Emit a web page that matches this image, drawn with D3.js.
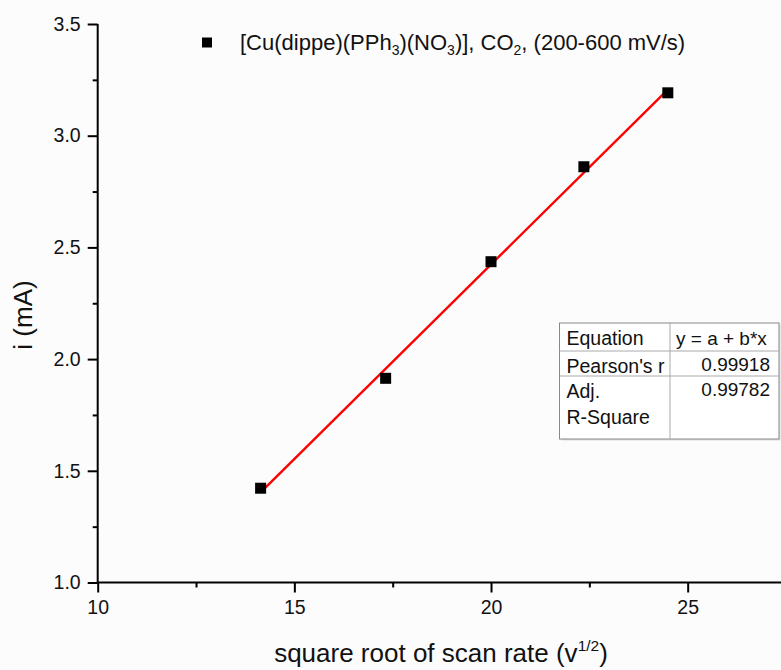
<!DOCTYPE html>
<html><head><meta charset="utf-8">
<script src="https://cdn.jsdelivr.net/npm/d3@7"></script>
<style>
body{margin:0;background:#fcfcfc;}
svg{display:block;font-family:"Liberation Sans",Arial,sans-serif;}
</style></head>
<body><svg id="c" width="781" height="670"></svg>
<script>
const scanRateSqrt = [14.142, 17.321, 20.0, 22.361, 24.495];
const current = [1.422, 1.914, 2.436, 2.861, 3.192];
const xMajorTicks = [10, 15, 20, 25];
const xMinorTicks = [12.5, 17.5, 22.5, 27.5];
const yMajorTicks = [1.0, 1.5, 2.0, 2.5, 3.0, 3.5];
const yMinorTicks = [1.25, 1.75, 2.25, 2.75, 3.25];
const tableRows = [["Equation", "y = a + b*x"], ["Pearson's r", "0.99918"], ["Adj.|R-Square", "0.99782"]];

const svg = d3.select("#c");
const x = d3.scaleLinear().domain([10, 27.5]).range([97.7, 786]);
const y = d3.scaleLinear().domain([1, 3.5]).range([582.5, 24]);

// axes
const gx = svg.append("g").attr("transform", "translate(0,582.5)");
gx.call(d3.axisBottom(x).tickValues(xMajorTicks).tickSize(10).tickPadding(8).tickFormat(d3.format("d")));
const gxm = svg.append("g").attr("transform", "translate(0,582.5)");
gxm.call(d3.axisBottom(x).tickValues(xMinorTicks).tickSize(5).tickFormat(""));
const gy = svg.append("g").attr("transform", "translate(97.7,0)");
gy.call(d3.axisLeft(y).tickValues(yMajorTicks).tickSize(10).tickPadding(7).tickFormat(d3.format(".1f")));
const gym = svg.append("g").attr("transform", "translate(97.7,0)");
gym.call(d3.axisLeft(y).tickValues(yMinorTicks).tickSize(5).tickFormat(""));
svg.selectAll(".domain").attr("stroke", "#000").attr("stroke-width", 2);
svg.selectAll(".tick line").attr("stroke", "#000").attr("stroke-width", 2);
svg.selectAll(".tick text").attr("font-size", 19.5).attr("fill", "#111").attr("font-family", "Liberation Sans, Arial, sans-serif");
gxm.select(".domain").remove(); gym.select(".domain").remove();
gx.select(".domain").attr("d", `M${x(10)},0H${x(27.5)}`);
gy.select(".domain").attr("d", `M0,${y(1)}V${y(3.5)}`);

// axis titles
const xt = svg.append("text").attr("x", 441).attr("y", 662).attr("text-anchor", "middle").attr("font-size", 26).attr("fill", "#111");
xt.append("tspan").text("square root of scan rate (v");
xt.append("tspan").attr("font-size", 15.5).attr("dy", -11).text("1/2");
xt.append("tspan").attr("dy", 11).text(")");
svg.append("text").attr("transform", "translate(31.5,315) rotate(-90)").attr("text-anchor", "middle")
  .attr("font-size", 26).attr("fill", "#111").text("i (mA)");

// linear fit (least squares of the data)
const n = scanRateSqrt.length;
const mx = d3.mean(scanRateSqrt), my = d3.mean(current);
let sxy = 0, sxx = 0;
for (let i = 0; i < n; i++) { sxy += (scanRateSqrt[i]-mx)*(current[i]-my); sxx += (scanRateSqrt[i]-mx)**2; }
const b = sxy/sxx, a = my - b*mx;
const x0 = d3.min(scanRateSqrt), x1 = d3.max(scanRateSqrt);
svg.append("line").attr("x1", x(x0)).attr("y1", y(a+b*x0)).attr("x2", x(x1)).attr("y2", y(a+b*x1))
  .attr("stroke", "#ff0000").attr("stroke-width", 2.4);

// points
const ms = 11;
svg.selectAll("rect.pt").data(scanRateSqrt).enter().append("rect").attr("class", "pt")
  .attr("x", d => x(d) - ms/2).attr("y", (d, i) => y(current[i]) - ms/2)
  .attr("width", ms).attr("height", ms).attr("fill", "#000");

// legend
svg.append("rect").attr("x", 202).attr("y", 37.5).attr("width", 10).attr("height", 10).attr("fill", "#000");
const lg = svg.append("text").attr("x", 240).attr("y", 50).attr("font-size", 22).attr("fill", "#111");
const sub = (t) => { lg.append("tspan").attr("font-size", 14).attr("dy", 5).text(t); };
lg.append("tspan").text("[Cu(dippe)(PPh");
sub("3");
lg.append("tspan").attr("dy", -5).text(")(NO");
sub("3");
lg.append("tspan").attr("dy", -5).text(")], CO");
sub("2");
lg.append("tspan").attr("dy", -5).text(", (200-600 mV/s)");

// stats table
const tx0 = 559.5, tx1 = 670, tx2 = 779, ty = [323, 351, 376, 439];
const tg = svg.append("g");
tg.append("rect").attr("x", tx0+1.5).attr("y", ty[0]+1.5).attr("width", tx2-tx0).attr("height", ty[3]-ty[0]).attr("fill", "#ddd");
tg.append("rect").attr("x", tx0).attr("y", ty[0]).attr("width", tx2-tx0).attr("height", ty[3]-ty[0]).attr("fill", "#fff").attr("stroke", "#888").attr("stroke-width", 1);
tg.append("line").attr("x1", tx1).attr("x2", tx1).attr("y1", ty[0]).attr("y2", ty[3]).attr("stroke", "#aaa");
[ty[1], ty[2]].forEach(v => tg.append("line").attr("x1", tx0).attr("x2", tx2).attr("y1", v).attr("y2", v).attr("stroke", "#aaa"));
tableRows.forEach((r, i) => {
  const lines = r[0].split("|");
  lines.forEach((s, j) => tg.append("text").attr("x", tx0 + 7).attr("y", ty[i] + 22 + j*26).attr("font-size", 19.5).attr("fill", "#111").text(s));
  const isNum = i > 0;
  tg.append("text").attr("x", isNum ? tx2 - 9 : tx1 + 6).attr("y", ty[i] + (isNum ? 20 : 22)).attr("text-anchor", isNum ? "end" : "start")
    .attr("font-size", 19).attr("fill", "#111").text(r[1]);
});
</script></body></html>
